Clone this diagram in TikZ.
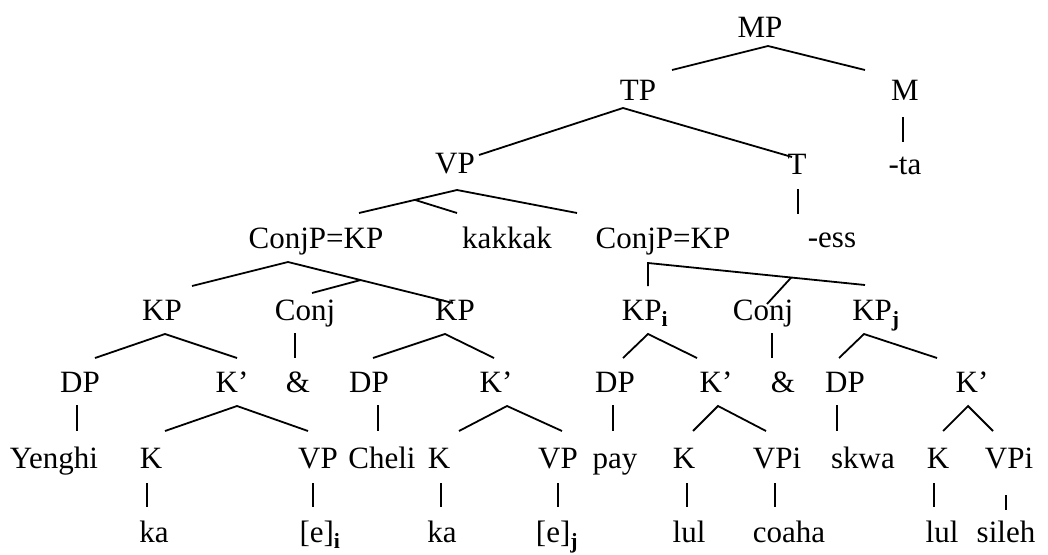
\documentclass[tikz,border=0pt]{standalone}
\usepackage{fontspec}
\setmainfont{Liberation Serif}
\usetikzlibrary{calc}

\begin{document}
\begin{tikzpicture}[x=1pt,y=-1pt,
  lab/.style={anchor=base,inner sep=0pt,font=\fontsize{31}{36}\selectfont},
  br/.style={line width=1.8pt,line cap=butt}]
  \useasboundingbox (0,0) rectangle (1048,554);
  % upper spine
  \node[lab] (MP)  at (760,37)  {MP};
  \node[lab] (TP)  at (638,100) {TP};
  \node[lab] (M)   at (905,100) {M};
  \node[lab] (VP)  at (455,173) {VP};
  \node[lab] (T)   at (797,174) {T};
  \node[lab] (ta)  at (905,174) {-ta};
  \node[lab] (CPl) at (316,248) {ConjP=KP};
  \node[lab] (kak) at (507,248) {kakkak};
  \node[lab] (CPr) at (663,248) {ConjP=KP};
  \node[lab] (ess) at (832,247) {-ess};
  % conjuncts
  \node[lab] (KPa) at (162,320) {KP};
  \node[lab] (Cja) at (305,320) {Conj};
  \node[lab] (KPb) at (455,320) {KP};
  \node[lab] (KPc) at (645,320) {KP\textsubscript{\textbf{i}}};
  \node[lab] (Cjb) at (763,320) {Conj};
  \node[lab] (KPd) at (876,320) {KP\textsubscript{\textbf{j}}};
  \foreach \n/\x/\t in {DPa/80/DP,Kba/232/K’,amp1/298/\&,DPb/369/DP,Kbb/496/K’,
                        DPc/615/DP,Kbc/716/K’,amp2/783/\&,DPd/845/DP,Kbd/972/K’}
    { \node[lab] (\n) at (\x,392) {\t}; }
  \foreach \n/\x/\t in {Yen/54/Yenghi,Ka/151/K,VPa/318/VP,Che/382/Cheli,Kb/439/K,VPb/558/VP,
                        pay/615/pay,Kc/684/K,VPc/777/VPi,skw/863/skwa,Kd/938/K,VPd/1009/VPi}
    { \node[lab] (\n) at (\x,468) {\t}; }
  \foreach \n/\x/\t in {ka1/154/ka,ka2/442/ka,lul1/689/lul,coa/789/coaha,lul2/942/lul,sil/1006/sileh}
    { \node[lab] (\n) at (\x,542) {\t}; }
  \node[lab] (ei) at (320,542) {[e]\textsubscript{\textbf{i}}};
  \node[lab] (ej) at (557,542) {[e]\textsubscript{\textbf{j}}};
  % branches
  \draw[br] ($(TP.base)+(34,-30)$) -- ($(MP.base)+(8,9)$) -- ($(M.base)+(-40,-30)$);
  \draw[br] ($(M.base)+(-2,17)$) -- ($(ta.base)+(-2,-32)$);
  \draw[br] ($(VP.base)+(24,-18)$) -- ($(TP.base)+(-15,8)$) -- ($(T.base)+(-5,-17)$);
  \draw[br] ($(T.base)+(1,15)$) -- ($(ess.base)+(-34,-33)$);
  \draw[br] ($(CPl.base)+(43,-35)$) -- coordinate[pos=0.57] (vpm) ($(VP.base)+(2,17)$) -- ($(CPr.base)+(-86,-35)$);
  \draw[br] (vpm) -- ($(kak.base)+(-50,-35)$);
  \draw[br] ($(KPa.base)+(30,-34)$) -- ($(CPl.base)+(-28,14)$) -- coordinate[pos=0.44] (cpl) ($(KPb.base)+(-2,-17)$);
  \draw[br] (cpl) -- ($(Cja.base)+(7,-27)$);
  \draw[br] ($(KPc.base)+(3,-34)$) -- ($(CPr.base)+(-15,15)$) -- coordinate[pos=0.66] (cpr) ($(KPd.base)+(-11,-35)$);
  \draw[br] (cpr) -- ($(Cjb.base)+(4,-16)$);
  \draw[br] ($(Cja.base)+(-10,13)$) -- ($(amp1.base)+(-3,-34)$);
  \draw[br] ($(Cjb.base)+(9,13)$) -- ($(amp2.base)+(-11,-34)$);
  \draw[br] ($(DPa.base)+(15,-34)$) -- ($(KPa.base)+(3,14)$) -- ($(Kba.base)+(5,-34)$);
  \draw[br] ($(DPb.base)+(4,-34)$) -- ($(KPb.base)+(-10,14)$) -- ($(Kbb.base)+(-2,-34)$);
  \draw[br] ($(DPc.base)+(8,-34)$) -- ($(KPc.base)+(3,14)$) -- ($(Kbc.base)+(-19,-34)$);
  \draw[br] ($(DPd.base)+(-6,-34)$) -- ($(KPd.base)+(-12,14)$) -- ($(Kbd.base)+(-35,-34)$);
  % DP and K' level
  \draw[br] ($(DPa.base)+(-3,13)$) -- ($(Yen.base)+(23,-37)$);
  \draw[br] ($(DPb.base)+(9,13)$) -- ($(Che.base)+(-4,-37)$);
  \draw[br] ($(DPc.base)+(-2,13)$) -- ($(pay.base)+(-2,-37)$);
  \draw[br] ($(DPd.base)+(-8,13)$) -- ($(skw.base)+(-26,-37)$);
  \draw[br] ($(Ka.base)+(14,-37)$) -- ($(Kba.base)+(5,14)$) -- ($(VPa.base)+(-10,-37)$);
  \draw[br] ($(Kb.base)+(20,-37)$) -- ($(Kbb.base)+(11,14)$) -- ($(VPb.base)+(4,-37)$);
  \draw[br] ($(Kc.base)+(9,-37)$) -- ($(Kbc.base)+(2,14)$) -- ($(VPc.base)+(-11,-37)$);
  \draw[br] ($(Kd.base)+(5,-37)$) -- ($(Kbd.base)+(-4,14)$) -- ($(VPd.base)+(-16,-37)$);
  % heads to words
  \draw[br] ($(Ka.base)+(-4,15)$) -- ($(ka1.base)+(-7,-35)$);
  \draw[br] ($(VPa.base)+(-5,15)$) -- ($(ei.base)+(-7,-35)$);
  \draw[br] ($(Kb.base)+(2,15)$) -- ($(ka2.base)+(-1,-35)$);
  \draw[br] ($(VPb.base)+(0,15)$) -- ($(ej.base)+(1,-35)$);
  \draw[br] ($(Kc.base)+(3,15)$) -- ($(lul1.base)+(-2,-35)$);
  \draw[br] ($(VPc.base)+(-2,15)$) -- ($(coa.base)+(-14,-35)$);
  \draw[br] ($(Kd.base)+(-4,15)$) -- ($(lul2.base)+(-8,-35)$);
  \draw[br] ($(VPd.base)+(-3,27)$) -- ($(sil.base)+(0,-32)$);
\end{tikzpicture}
\end{document}
